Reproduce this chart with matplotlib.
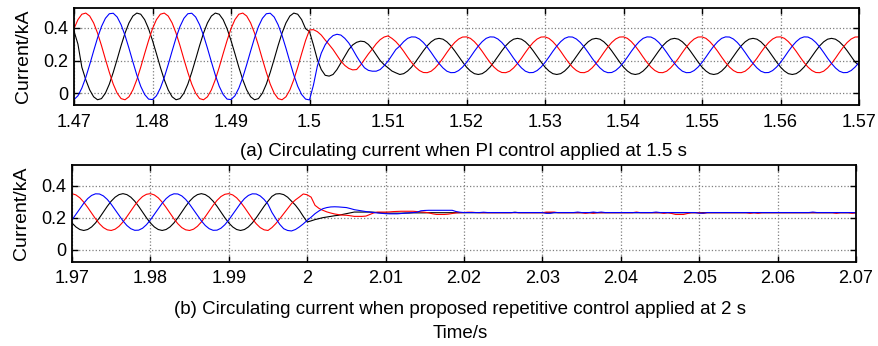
import numpy as np
import matplotlib
matplotlib.use('Agg')
import matplotlib.pyplot as plt

plt.rcParams['font.family'] = ['Liberation Sans', 'DejaVu Sans']

# sampling instants (0.5 ms steps)
t_a = np.linspace(1.47, 1.57, 201)
t_b = np.linspace(1.97, 2.07, 201)

# (a) PI control applied at 1.5 s -- one row = 10 ms
red_a = [
    0.394, 0.449, 0.482, 0.489, 0.471, 0.429, 0.367, 0.291, 0.208, 0.128,
    0.056, 0.001, -0.032, -0.039, -0.021, 0.021, 0.083, 0.159, 0.242, 0.322,
    0.394, 0.449, 0.482, 0.489, 0.471, 0.429, 0.367, 0.291, 0.208, 0.128,
    0.056, 0.001, -0.032, -0.039, -0.021, 0.021, 0.083, 0.159, 0.242, 0.322,
    0.394, 0.449, 0.482, 0.489, 0.471, 0.429, 0.367, 0.291, 0.208, 0.128,
    0.056, 0.001, -0.032, -0.039, -0.021, 0.021, 0.083, 0.159, 0.242, 0.322,
    0.386, 0.388, 0.376, 0.355, 0.325, 0.297, 0.267, 0.231, 0.196, 0.170,
    0.152, 0.143, 0.145, 0.172, 0.206, 0.240, 0.270, 0.302, 0.327, 0.343,
    0.350, 0.335, 0.315, 0.288, 0.256, 0.221, 0.188, 0.160, 0.139, 0.127,
    0.126, 0.135, 0.155, 0.182, 0.214, 0.249, 0.282, 0.310, 0.331, 0.343,
    0.344, 0.335, 0.315, 0.288, 0.256, 0.221, 0.188, 0.160, 0.139, 0.127,
    0.126, 0.135, 0.155, 0.182, 0.214, 0.249, 0.282, 0.310, 0.331, 0.343,
    0.344, 0.335, 0.315, 0.288, 0.256, 0.221, 0.188, 0.160, 0.139, 0.127,
    0.126, 0.135, 0.155, 0.182, 0.214, 0.249, 0.282, 0.310, 0.331, 0.343,
    0.344, 0.335, 0.315, 0.288, 0.256, 0.221, 0.188, 0.160, 0.139, 0.127,
    0.126, 0.135, 0.155, 0.182, 0.214, 0.249, 0.282, 0.310, 0.331, 0.343,
    0.344, 0.335, 0.315, 0.288, 0.256, 0.221, 0.188, 0.160, 0.139, 0.127,
    0.126, 0.135, 0.155, 0.182, 0.214, 0.249, 0.282, 0.310, 0.331, 0.343,
    0.344, 0.335, 0.315, 0.288, 0.256, 0.221, 0.188, 0.160, 0.139, 0.127,
    0.126, 0.135, 0.155, 0.182, 0.214, 0.249, 0.282, 0.310, 0.331, 0.343,
    0.344]
blue_a = [
    -0.038, -0.015, 0.032, 0.097, 0.175, 0.258, 0.338, 0.407, 0.457, 0.485,
    0.488, 0.465, 0.418, 0.353, 0.275, 0.192, 0.112, 0.043, -0.007, -0.035,
    -0.038, -0.015, 0.032, 0.097, 0.175, 0.258, 0.338, 0.407, 0.457, 0.485,
    0.488, 0.465, 0.418, 0.353, 0.275, 0.192, 0.112, 0.043, -0.007, -0.035,
    -0.038, -0.015, 0.032, 0.097, 0.175, 0.258, 0.338, 0.407, 0.457, 0.485,
    0.488, 0.465, 0.418, 0.353, 0.275, 0.192, 0.112, 0.043, -0.007, -0.035,
    -0.040, 0.050, 0.166, 0.245, 0.296, 0.330, 0.352, 0.360, 0.355, 0.335,
    0.307, 0.268, 0.226, 0.188, 0.156, 0.140, 0.135, 0.135, 0.145, 0.168,
    0.196, 0.232, 0.267, 0.288, 0.315, 0.335, 0.344, 0.343, 0.331, 0.310,
    0.282, 0.249, 0.214, 0.182, 0.155, 0.135, 0.126, 0.127, 0.139, 0.160,
    0.188, 0.221, 0.256, 0.288, 0.315, 0.335, 0.344, 0.343, 0.331, 0.310,
    0.282, 0.249, 0.214, 0.182, 0.155, 0.135, 0.126, 0.127, 0.139, 0.160,
    0.188, 0.221, 0.256, 0.288, 0.315, 0.335, 0.344, 0.343, 0.331, 0.310,
    0.282, 0.249, 0.214, 0.182, 0.155, 0.135, 0.126, 0.127, 0.139, 0.160,
    0.188, 0.221, 0.256, 0.288, 0.315, 0.335, 0.344, 0.343, 0.331, 0.310,
    0.282, 0.249, 0.214, 0.182, 0.155, 0.135, 0.126, 0.127, 0.139, 0.160,
    0.188, 0.221, 0.256, 0.288, 0.315, 0.335, 0.344, 0.343, 0.331, 0.310,
    0.282, 0.249, 0.214, 0.182, 0.155, 0.135, 0.126, 0.127, 0.139, 0.160,
    0.188, 0.221, 0.256, 0.288, 0.315, 0.335, 0.344, 0.343, 0.331, 0.310,
    0.282, 0.249, 0.214, 0.182, 0.155, 0.135, 0.126, 0.127, 0.139, 0.160,
    0.188]
black_a = [
    0.380, 0.300, 0.159, 0.083, 0.021, -0.021, -0.039, -0.032, 0.001, 0.056,
    0.128, 0.208, 0.291, 0.367, 0.429, 0.471, 0.489, 0.482, 0.449, 0.394,
    0.322, 0.242, 0.159, 0.083, 0.021, -0.021, -0.039, -0.032, 0.001, 0.056,
    0.128, 0.208, 0.291, 0.367, 0.429, 0.471, 0.489, 0.482, 0.449, 0.394,
    0.322, 0.242, 0.159, 0.083, 0.021, -0.021, -0.039, -0.032, 0.001, 0.056,
    0.128, 0.208, 0.291, 0.367, 0.429, 0.471, 0.489, 0.482, 0.449, 0.394,
    0.376, 0.295, 0.206, 0.145, 0.110, 0.105, 0.115, 0.145, 0.186, 0.228,
    0.267, 0.295, 0.311, 0.318, 0.315, 0.298, 0.270, 0.235, 0.200, 0.175,
    0.156, 0.136, 0.125, 0.115, 0.120, 0.136, 0.160, 0.191, 0.225, 0.259,
    0.290, 0.314, 0.330, 0.335, 0.330, 0.314, 0.290, 0.259, 0.225, 0.191,
    0.160, 0.136, 0.120, 0.115, 0.120, 0.136, 0.160, 0.191, 0.225, 0.259,
    0.290, 0.314, 0.330, 0.335, 0.330, 0.314, 0.290, 0.259, 0.225, 0.191,
    0.160, 0.136, 0.120, 0.115, 0.120, 0.136, 0.160, 0.191, 0.225, 0.259,
    0.290, 0.314, 0.330, 0.335, 0.330, 0.314, 0.290, 0.259, 0.225, 0.191,
    0.160, 0.136, 0.120, 0.115, 0.120, 0.136, 0.160, 0.191, 0.225, 0.259,
    0.290, 0.314, 0.330, 0.335, 0.330, 0.314, 0.290, 0.259, 0.225, 0.191,
    0.160, 0.136, 0.120, 0.115, 0.120, 0.136, 0.160, 0.191, 0.225, 0.259,
    0.290, 0.314, 0.330, 0.335, 0.330, 0.314, 0.290, 0.259, 0.225, 0.191,
    0.160, 0.136, 0.120, 0.115, 0.120, 0.136, 0.160, 0.191, 0.225, 0.259,
    0.290, 0.314, 0.330, 0.335, 0.330, 0.314, 0.290, 0.259, 0.225, 0.191,
    0.170]

# (b) proposed repetitive control applied at 2 s
red_b = [
    0.352, 0.344, 0.326, 0.299, 0.266, 0.230, 0.195, 0.164, 0.140, 0.126,
    0.122, 0.130, 0.148, 0.175, 0.208, 0.244, 0.279, 0.310, 0.334, 0.348,
    0.352, 0.344, 0.326, 0.299, 0.266, 0.230, 0.195, 0.164, 0.140, 0.126,
    0.122, 0.130, 0.148, 0.175, 0.208, 0.244, 0.279, 0.310, 0.334, 0.348,
    0.352, 0.344, 0.326, 0.299, 0.266, 0.230, 0.195, 0.164, 0.140, 0.126,
    0.122, 0.140, 0.165, 0.195, 0.227, 0.260, 0.290, 0.313, 0.331, 0.350,
    0.345, 0.330, 0.279, 0.260, 0.248, 0.238, 0.231, 0.225, 0.221, 0.218,
    0.217, 0.214, 0.210, 0.210, 0.210, 0.212, 0.222, 0.232, 0.237, 0.237,
    0.237, 0.238, 0.240, 0.241, 0.242, 0.242, 0.242, 0.242, 0.240, 0.238,
    0.236, 0.232, 0.226, 0.222, 0.222, 0.222, 0.224, 0.228, 0.232, 0.233,
    0.234, 0.236, 0.236, 0.234, 0.233, 0.233, 0.233, 0.233, 0.233, 0.233,
    0.233, 0.233, 0.233, 0.233, 0.233, 0.233, 0.233, 0.233, 0.233, 0.233,
    0.233, 0.237, 0.237, 0.237, 0.233, 0.233, 0.233, 0.233, 0.233, 0.233,
    0.233, 0.229, 0.233, 0.229, 0.233, 0.233, 0.233, 0.233, 0.233, 0.233,
    0.233, 0.233, 0.233, 0.233, 0.237, 0.233, 0.233, 0.233, 0.233, 0.233,
    0.233, 0.229, 0.233, 0.228, 0.222, 0.222, 0.222, 0.228, 0.233, 0.233,
    0.233, 0.229, 0.233, 0.233, 0.233, 0.233, 0.233, 0.233, 0.233, 0.233,
    0.233, 0.233, 0.233, 0.229, 0.233, 0.229, 0.233, 0.233, 0.233, 0.233,
    0.233, 0.233, 0.233, 0.233, 0.233, 0.233, 0.233, 0.233, 0.233, 0.233,
    0.233, 0.233, 0.233, 0.233, 0.233, 0.229, 0.233, 0.233, 0.233, 0.229,
    0.233]
blue_b = [
    0.188, 0.223, 0.259, 0.292, 0.321, 0.341, 0.351, 0.350, 0.338, 0.316,
    0.286, 0.251, 0.215, 0.182, 0.153, 0.133, 0.123, 0.124, 0.136, 0.158,
    0.188, 0.223, 0.259, 0.292, 0.321, 0.341, 0.351, 0.350, 0.338, 0.316,
    0.286, 0.251, 0.215, 0.182, 0.153, 0.133, 0.123, 0.124, 0.136, 0.158,
    0.188, 0.223, 0.259, 0.292, 0.321, 0.341, 0.351, 0.350, 0.338, 0.316,
    0.286, 0.235, 0.196, 0.160, 0.133, 0.122, 0.119, 0.128, 0.144, 0.163,
    0.185, 0.205, 0.227, 0.244, 0.258, 0.265, 0.269, 0.270, 0.269, 0.267,
    0.265, 0.259, 0.252, 0.248, 0.244, 0.240, 0.237, 0.234, 0.231, 0.229,
    0.227, 0.226, 0.226, 0.226, 0.228, 0.230, 0.232, 0.234, 0.236, 0.245,
    0.247, 0.248, 0.248, 0.248, 0.248, 0.248, 0.248, 0.248, 0.240, 0.236,
    0.234, 0.234, 0.234, 0.234, 0.234, 0.236, 0.234, 0.234, 0.234, 0.234,
    0.234, 0.234, 0.234, 0.234, 0.234, 0.234, 0.234, 0.234, 0.234, 0.234,
    0.234, 0.229, 0.229, 0.234, 0.234, 0.234, 0.234, 0.234, 0.234, 0.237,
    0.234, 0.234, 0.234, 0.237, 0.234, 0.237, 0.234, 0.234, 0.234, 0.234,
    0.234, 0.234, 0.234, 0.234, 0.234, 0.234, 0.234, 0.234, 0.234, 0.237,
    0.234, 0.234, 0.234, 0.234, 0.234, 0.234, 0.234, 0.234, 0.234, 0.234,
    0.230, 0.230, 0.234, 0.234, 0.234, 0.234, 0.234, 0.234, 0.234, 0.234,
    0.234, 0.234, 0.234, 0.234, 0.234, 0.234, 0.234, 0.234, 0.234, 0.234,
    0.234, 0.234, 0.234, 0.234, 0.234, 0.234, 0.234, 0.234, 0.234, 0.237,
    0.234, 0.234, 0.234, 0.234, 0.234, 0.234, 0.234, 0.234, 0.234, 0.234,
    0.232]
black_b = [
    0.169, 0.144, 0.128, 0.122, 0.128, 0.144, 0.169, 0.201, 0.237, 0.273,
    0.305, 0.330, 0.346, 0.352, 0.346, 0.330, 0.305, 0.273, 0.237, 0.201,
    0.169, 0.144, 0.128, 0.122, 0.128, 0.144, 0.169, 0.201, 0.237, 0.273,
    0.305, 0.330, 0.346, 0.352, 0.346, 0.330, 0.305, 0.273, 0.237, 0.201,
    0.169, 0.144, 0.128, 0.122, 0.128, 0.144, 0.169, 0.201, 0.237, 0.273,
    0.305, 0.335, 0.350, 0.352, 0.346, 0.330, 0.305, 0.280, 0.248, 0.210,
    0.175, 0.182, 0.190, 0.196, 0.202, 0.206, 0.210, 0.214, 0.217, 0.222,
    0.227, 0.232, 0.237, 0.237, 0.237, 0.237, 0.237, 0.236, 0.234, 0.232,
    0.231, 0.230, 0.230, 0.230, 0.230, 0.231, 0.231, 0.232, 0.232, 0.232,
    0.232, 0.233, 0.233, 0.233, 0.233, 0.233, 0.233, 0.233, 0.233, 0.233,
    0.233, 0.233, 0.233, 0.233, 0.233, 0.233, 0.233, 0.233, 0.233, 0.233,
    0.233, 0.233, 0.233, 0.236, 0.233, 0.233, 0.233, 0.233, 0.233, 0.233,
    0.233, 0.233, 0.233, 0.233, 0.233, 0.233, 0.233, 0.233, 0.233, 0.233,
    0.233, 0.233, 0.233, 0.233, 0.233, 0.233, 0.233, 0.233, 0.233, 0.233,
    0.233, 0.233, 0.233, 0.233, 0.233, 0.233, 0.233, 0.233, 0.233, 0.233,
    0.233, 0.233, 0.233, 0.233, 0.233, 0.233, 0.233, 0.233, 0.233, 0.233,
    0.233, 0.233, 0.233, 0.233, 0.233, 0.233, 0.233, 0.233, 0.233, 0.233,
    0.233, 0.233, 0.233, 0.233, 0.233, 0.233, 0.233, 0.233, 0.233, 0.233,
    0.233, 0.233, 0.233, 0.233, 0.233, 0.233, 0.233, 0.233, 0.233, 0.233,
    0.233, 0.233, 0.233, 0.233, 0.233, 0.233, 0.233, 0.233, 0.233, 0.233,
    0.233]

xticks_a = [1.47, 1.48, 1.49, 1.50, 1.51, 1.52, 1.53, 1.54, 1.55, 1.56, 1.57]
xlabels_a = ['1.47', '1.48', '1.49', '1.5', '1.51', '1.52', '1.53', '1.54',
             '1.55', '1.56', '1.57']
xticks_b = [1.97, 1.98, 1.99, 2.00, 2.01, 2.02, 2.03, 2.04, 2.05, 2.06, 2.07]
xlabels_b = ['1.97', '1.98', '1.99', '2', '2.01', '2.02', '2.03', '2.04',
             '2.05', '2.06', '2.07']
yticks = [0, 0.2, 0.4]
ylabels = ['0', '0.2', '0.4']

caption_a = '(a) Circulating current when PI control applied at 1.5 s'
caption_b = '(b) Circulating current when proposed repetitive control applied at 2 s'

W, H = 879, 346
fig = plt.figure(figsize=(W / 100, H / 100), dpi=100)
ax1 = fig.add_axes([74 / W, 1 - 105.5 / H, (859 - 74) / W, 98 / H])
ax2 = fig.add_axes([72 / W, 1 - 262 / H, (856 - 72) / W, 97 / H])


def style(ax, t, red, blue, black, xt, xl, ylim):
    ax.plot(t, black, color='k', lw=0.8)
    ax.plot(t, red, color='#ff0000', lw=0.8)
    ax.plot(t, blue, color='#0000ff', lw=0.8)
    ax.set_xlim(xt[0], xt[-1])
    ax.set_ylim(*ylim)
    ax.set_xticks(xt)
    ax.set_xticklabels(xl)
    ax.set_yticks(yticks)
    ax.set_yticklabels(ylabels)
    ax.grid(True, color='#7f7f7f', ls=':', lw=0.9)
    ax.tick_params(direction='in', top=True, right=True, length=4,
                   width=1.0, labelsize=13)
    ax.tick_params(axis='x', pad=6)
    ax.tick_params(axis='y', pad=4)
    for s in ax.spines.values():
        s.set_linewidth(1.3)
    ax.set_ylabel('Current/kA', fontsize=14, labelpad=8)


style(ax1, t_a, red_a, blue_a, black_a, xticks_a, xlabels_a, (-0.074, 0.523))
style(ax2, t_b, red_b, blue_b, black_b, xticks_b, xlabels_b, (-0.075, 0.531))

fig.text(463 / W, 1 - 151 / H, caption_a, ha='center', va='center', fontsize=13.5)
fig.text(460 / W, 1 - 310 / H, caption_b, ha='center', va='center', fontsize=13.5)
fig.text(460 / W, 1 - 334 / H, 'Time/s', ha='center', va='center', fontsize=13.5)

fig.savefig('out.png', dpi=100)
